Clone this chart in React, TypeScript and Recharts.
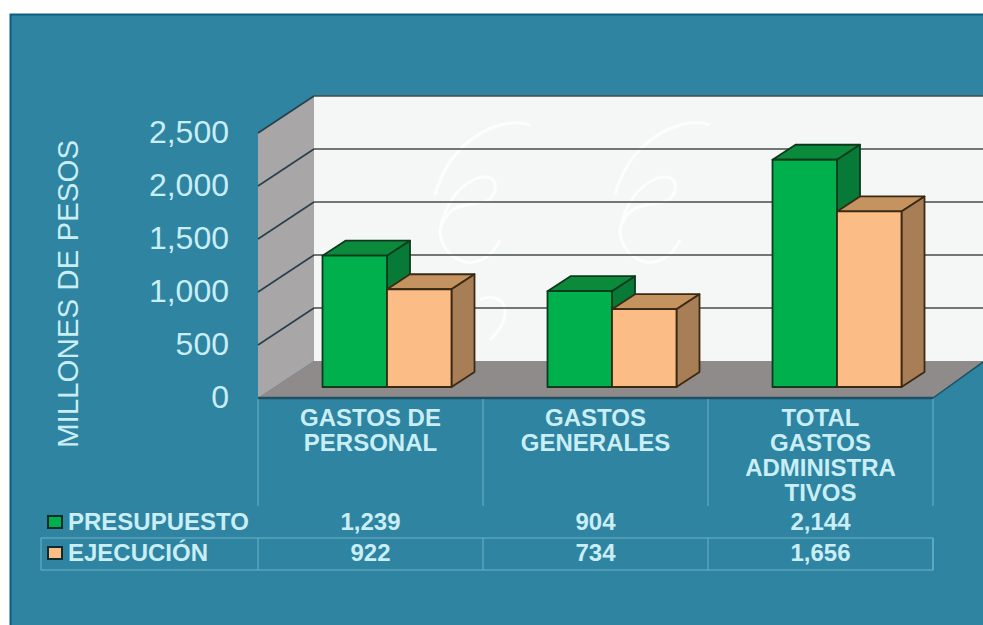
import React from "react"
import { Bar, BarChart, CartesianGrid, XAxis, YAxis } from "recharts"

const categories = ["GASTOS DE PERSONAL", "GASTOS GENERALES", "TOTAL GASTOS ADMINISTRATIVOS"]
const categoryLines = [
  ["GASTOS DE", "PERSONAL"],
  ["GASTOS", "GENERALES"],
  ["TOTAL", "GASTOS", "ADMINISTRA", "TIVOS"],
]
const presupuesto = [1239, 904, 2144]
const ejecucion = [922, 734, 1656]
const yTicks = [0, 500, 1000, 1500, 2000, 2500]

const data = categories.map((name, i) => ({
  name,
  presupuesto: presupuesto[i],
  ejecucion: ejecucion[i],
}))

const TEXT = "#c9eef5"
const TABLE_LINE = "#6db4c8"
const FONT = "'Liberation Sans', Arial, sans-serif"
const fmt = (v: number) => v.toLocaleString("en-US")

// depth of the bars and of the walls
const BAR_DX = 23
const BAR_DY = -15
const WALL_LEFT = 258
const WALL_BACK = 314
const WALL_SHIFT = 26

function Bar3D(props: any, front: string, top: string, side: string, stroke: string) {
  const { x, y, width, height } = props
  const r = x + width
  const b = y + height
  return (
    <g stroke={stroke} strokeWidth={1.8} strokeLinejoin="round">
      <polygon points={`${x},${y} ${x + BAR_DX},${y + BAR_DY} ${r + BAR_DX},${y + BAR_DY} ${r},${y}`} fill={top} />
      <polygon points={`${r},${y} ${r + BAR_DX},${y + BAR_DY} ${r + BAR_DX},${b + BAR_DY} ${r},${b}`} fill={side} />
      <rect x={x} y={y} width={width} height={height} fill={front} />
    </g>
  )
}

// one grid level: diagonal on the side wall and line on the back wall
function WallLine(props: any) {
  const { y1 } = props
  const backY = y1 - WALL_SHIFT
  const frontY = y1 + 11
  if (frontY > 390) return <g key="wall-floor" />
  return (
    <g key={`wall-${y1}`}>
      <line x1={WALL_LEFT} y1={frontY} x2={WALL_BACK} y2={backY} stroke="#26414d" strokeWidth={1.6} />
      <line x1={WALL_BACK} y1={backY} x2={983} y2={backY} stroke="#454b4d" strokeWidth={1.6} />
    </g>
  )
}

function YTick({ y, payload }: any) {
  return (
    <text x={229} y={y + 10} dy={11} textAnchor="end" fontSize={32} fontFamily={FONT} fill={TEXT}>
      {fmt(payload.value)}
    </text>
  )
}

function CategoryTick({ x, index }: any) {
  const cx = x - 16.5
  const style = { fontSize: 24, fontWeight: 700, fontFamily: FONT, fill: TEXT }
  return (
    <g textAnchor="middle" style={style}>
      {categoryLines[index].map((line, i) => (
        <text key={line} x={cx} y={426 + i * 25}>
          {line}
        </text>
      ))}
      <text x={cx} y={530}>{fmt(presupuesto[index])}</text>
      <text x={cx} y={561}>{fmt(ejecucion[index])}</text>
    </g>
  )
}

// faint crest behind the plot
const Watermark = () => (
  <g fill="none" stroke="#fdfdfd" strokeWidth={3}>
    <path d="M435 195 C450 140 500 115 530 125 M440 230 C450 175 500 165 495 190 C490 215 450 190 440 230 C440 260 480 280 500 240" />
    <path d="M615 195 C630 140 680 115 710 125 M620 230 C630 175 680 165 675 190 C670 215 630 190 620 230 C620 260 660 280 680 240" />
    <path d="M480 300 C500 290 520 310 490 340 M660 300 C680 290 700 310 670 340" />
  </g>
)

const Backdrop = () => (
  <svg width={983} height={625} style={{ position: "absolute", left: 0, top: 0 }}>
    <rect x={10.5} y={14.5} width={980} height={620} fill="#2e84a1" stroke="#0f5f7c" strokeWidth={2} />
    <polygon points="314,96 983,96 983,361 314,361" fill="#f5f6f6" />
    <Watermark />
    <polygon points="258,133 314,96 314,361 258,398" fill="#a8a6a6" />
    <polygon points="258,398 314,361 983,361 933,398" fill="#8f8b8b" />
    <line x1={258} y1={398} x2={933} y2={398} stroke="#1f4f63" strokeWidth={2.5} />
    <line x1={933} y1={398} x2={983} y2={362} stroke="#1f4f63" strokeWidth={1.5} />
  </svg>
)

export default function App() {
  return (
    <div style={{ position: "absolute", left: 0, top: 0, width: 983, height: 625, overflow: "hidden", background: "#fff" }}>
      <Backdrop />
      <div style={{ position: "absolute", left: 0, top: 0 }}>
        <BarChart
          width={983}
          height={625}
          data={data}
          margin={{ top: 122, right: 33.5, bottom: 138, left: 214.5 }}
          barSize={64.5}
          barGap={0}
        >
          <CartesianGrid vertical={false} horizontal={WallLine as any} stroke="#454b4d" />

          <XAxis dataKey="name" axisLine={false} tickLine={false} interval={0} height={100} tick={CategoryTick as any} />
          <YAxis
            domain={[0, 2500]}
            ticks={yTicks}
            width={60}
            axisLine={false}
            tickLine={false}
            tick={YTick as any}
          />

          <Bar
            dataKey="presupuesto"
            isAnimationActive={false}
            fill="#00b04c"
            shape={(p: any) => Bar3D(p, "#00b04c", "#0b8a3c", "#067a36", "#0b3a1c")}
          />
          <Bar
            dataKey="ejecucion"
            isAnimationActive={false}
            fill="#fbbc86"
            shape={(p: any) => Bar3D(p, "#fbbc86", "#c4935f", "#a87e56", "#3a2a14")}
          />

          {/* axis title */}
          <text
            transform="translate(78 294) rotate(-90)"
            textAnchor="middle"
            fontSize={29.5}
            fontFamily={FONT}
            fill={TEXT}
          >
            MILLONES DE PESOS
          </text>

          {/* data table */}
          <g stroke={TABLE_LINE} strokeWidth={1}>
            {[258, 483, 708, 933].map((x) => (
              <g key={x}>
                <line x1={x} y1={399} x2={x} y2={506} />
                <line x1={x} y1={538} x2={x} y2={570} />
              </g>
            ))}
            <rect x={41} y={538} width={892} height={32} fill="none" />
          </g>
          <g fontFamily={FONT} fontWeight={700} fontSize={24} fill={TEXT}>
            <rect x={48} y={516} width={14} height={12} fill="#00b04c" stroke="#0a2c2c" strokeWidth={2} />
            <text x={68} y={530}>PRESUPUESTO</text>
            <rect x={48} y={547} width={14} height={12} fill="#fbbc86" stroke="#0a2c2c" strokeWidth={2} />
            <text x={68} y={561}>EJECUCIÓN</text>
          </g>
        </BarChart>
      </div>
    </div>
  )
}
